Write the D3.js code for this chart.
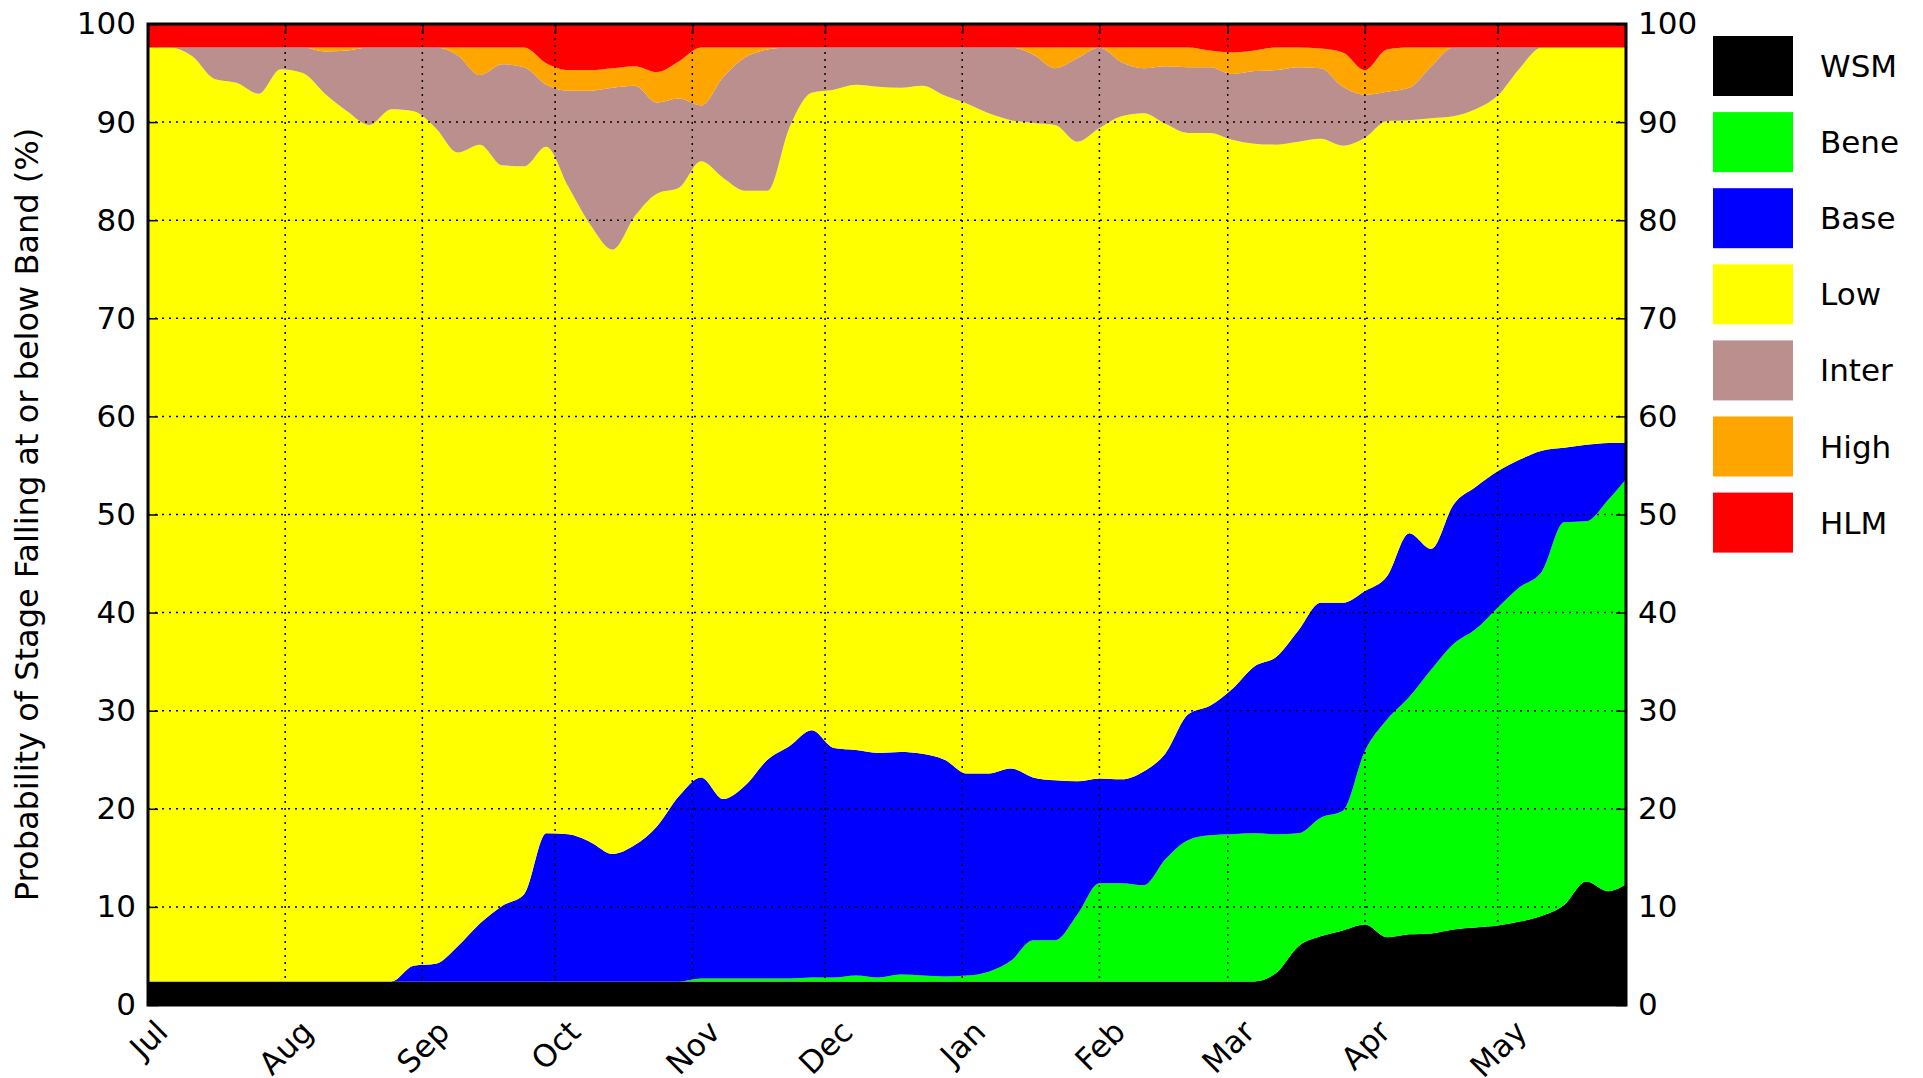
<!DOCTYPE html>
<html>
<head>
<meta charset="UTF-8">
<title>Probability of Stage Falling at or below Band</title>
<style>
  body { margin: 0; background: #fff; }
  text { font-family: "DejaVu Sans", sans-serif; fill: #000; }
</style>
</head>
<body>
<script src="https://cdn.jsdelivr.net/npm/d3@7/dist/d3.min.js"></script>
<script>
// days after 2019-07-01 where the curves were read
var dayOffsets = [0, 5, 10, 15, 20, 25, 30, 35, 40, 45,
                  50, 55, 60, 65, 70, 75, 80, 85, 90, 95,
                  100, 105, 110, 115, 120, 125, 130, 135, 140, 145,
                  150, 155, 160, 165, 170, 175, 180, 185, 190, 195,
                  200, 205, 210, 215, 220, 225, 230, 235, 240, 245,
                  250, 255, 260, 265, 270, 275, 280, 285, 290, 295,
                  300, 305, 310, 315, 320, 325, 330, 334];

// cumulative probability (%) of stage at or below each band
var wsm = [2.4, 2.4, 2.4, 2.4, 2.4, 2.4, 2.4, 2.4, 2.4, 2.4,
           2.4, 2.4, 2.4, 2.4, 2.4, 2.4, 2.4, 2.4, 2.4, 2.4,
           2.4, 2.4, 2.4, 2.4, 2.4, 2.4, 2.4, 2.4, 2.4, 2.4,
           2.4, 2.4, 2.4, 2.4, 2.4, 2.4, 2.4, 2.4, 2.4, 2.4,
           2.4, 2.4, 2.4, 2.4, 2.4, 2.4, 2.4, 2.4, 2.4, 2.4,
           2.4, 3.3, 6.0, 7.0, 7.6, 8.2, 6.9, 7.2, 7.3, 7.7,
           7.9, 8.1, 8.5, 9.1, 10.2, 12.6, 11.6, 12.3];

var bene = [2.4, 2.4, 2.4, 2.4, 2.4, 2.4, 2.4, 2.4, 2.4, 2.4,
            2.4, 2.4, 2.4, 2.4, 2.4, 2.4, 2.4, 2.4, 2.4, 2.4,
            2.4, 2.4, 2.4, 2.4, 2.4, 2.7, 2.7, 2.7, 2.7, 2.7,
            2.8, 2.8, 3.0, 2.8, 3.1, 3.0, 2.9, 3.0, 3.4, 4.5,
            6.6, 6.6, 9.2, 12.4, 12.4, 12.2, 14.9, 16.8, 17.3, 17.4,
            17.5, 17.4, 17.5, 19.1, 19.8, 25.9, 29.1, 31.4, 34.2, 36.8,
            38.3, 40.5, 42.6, 44.2, 49.2, 49.3, 51.5, 53.6];

var base = [2.4, 2.4, 2.4, 2.4, 2.4, 2.4, 2.4, 2.4, 2.4, 2.4,
            2.4, 2.4, 4.0, 4.2, 6.0, 8.3, 10.1, 11.3, 17.5, 17.4,
            16.6, 15.4, 16.3, 18.2, 21.3, 23.2, 21.0, 22.4, 25.0, 26.4,
            28.0, 26.2, 26.0, 25.7, 25.8, 25.6, 25.0, 23.6, 23.6, 24.1,
            23.2, 22.9, 22.8, 23.1, 23.0, 23.8, 25.7, 29.6, 30.5, 32.2,
            34.5, 35.5, 38.2, 41.0, 41.0, 42.2, 43.7, 48.1, 46.5, 51.0,
            52.8, 54.4, 55.6, 56.5, 56.8, 57.1, 57.3, 57.3];

var low = [97.6, 97.6, 96.7, 94.4, 94.0, 92.9, 95.4, 95.0, 92.9, 91.1,
           89.7, 91.3, 91.1, 89.4, 86.9, 87.7, 85.6, 85.5, 87.5, 83.4,
           79.5, 77.0, 80.4, 82.7, 83.3, 86.0, 84.3, 83.0, 83.0, 89.5,
           93.0, 93.3, 93.8, 93.6, 93.5, 93.7, 92.7, 91.9, 90.9, 90.2,
           89.9, 89.7, 88.0, 89.4, 90.6, 90.9, 89.8, 88.9, 88.9, 88.2,
           87.8, 87.7, 88.0, 88.3, 87.6, 88.4, 90.1, 90.2, 90.4, 90.6,
           91.3, 92.7, 95.5, 97.6, 97.6, 97.6, 97.6, 97.6];

var inter = [97.6, 97.6, 97.6, 97.6, 97.6, 97.6, 97.6, 97.6, 97.2, 97.3,
             97.6, 97.6, 97.6, 97.6, 96.8, 94.8, 95.9, 95.6, 93.8, 93.2,
             93.2, 93.5, 93.7, 92.0, 92.4, 91.7, 94.6, 96.6, 97.4, 97.6,
             97.6, 97.6, 97.6, 97.6, 97.6, 97.6, 97.6, 97.6, 97.6, 97.6,
             96.9, 95.5, 96.5, 97.6, 96.1, 95.5, 95.7, 95.6, 95.6, 94.9,
             95.2, 95.3, 95.6, 95.5, 93.6, 92.8, 93.1, 93.5, 95.7, 97.6,
             97.6, 97.6, 97.6, 97.6, 97.6, 97.6, 97.6, 97.6];

var high = [97.6, 97.6, 97.6, 97.6, 97.6, 97.6, 97.6, 97.6, 97.6, 97.6,
            97.6, 97.6, 97.6, 97.6, 97.6, 97.6, 97.6, 97.6, 96.0, 95.3,
            95.3, 95.5, 95.7, 95.1, 96.2, 97.6, 97.6, 97.6, 97.6, 97.6,
            97.6, 97.6, 97.6, 97.6, 97.6, 97.6, 97.6, 97.6, 97.6, 97.6,
            97.6, 97.6, 97.6, 97.6, 97.6, 97.6, 97.6, 97.6, 97.3, 97.1,
            97.3, 97.6, 97.6, 97.5, 97.1, 95.3, 97.4, 97.6, 97.6, 97.6,
            97.6, 97.6, 97.6, 97.6, 97.6, 97.6, 97.6, 97.6];

var hlm = dayOffsets.map(function(){ return 100; });

var bandNames = ["WSM", "Bene", "Base", "Low", "Inter", "High", "HLM"];
var bandColors = ["#000000", "#00ff00", "#0000ff", "#ffff00", "#bc8f8f", "#ffa500", "#ff0000"];
var yTicks = [0, 10, 20, 30, 40, 50, 60, 70, 80, 90, 100];

var startDate = new Date(Date.UTC(2019, 6, 1));
var endDate = new Date(Date.UTC(2020, 4, 30));

// canvas
var width = 1923, height = 1078;
var plotL = 148, plotR = 1626, plotT = 24, plotB = 1005;
var fontSize = 31;

var svg = d3.select("body").append("svg")
    .attr("width", width)
    .attr("height", height);

var x = d3.scaleUtc().domain([startDate, endDate]).range([plotL, plotR]);
var y = d3.scaleLinear().domain([0, 100]).range([plotB, plotT]);

var dates = dayOffsets.map(function(d){ return d3.utcDay.offset(startDate, d); });
var levels = [wsm, bene, base, low, inter, high, hlm];

// bands, from the bottom up
levels.forEach(function(top, k){
    var bottom = k === 0 ? null : levels[k - 1];
    var area = d3.area()
        .x(function(i){ return x(dates[i]); })
        .y0(function(i){ return bottom ? y(bottom[i]) : y(0); })
        .y1(function(i){ return y(top[i]); })
        .curve(d3.curveMonotoneX);
    svg.append("path")
        .attr("d", area(d3.range(dates.length)))
        .attr("fill", bandColors[k])
        .attr("stroke", "none");
});

// dotted grid
var months = d3.utcMonth.range(startDate, endDate);
svg.append("g").selectAll("line")
    .data(months.slice(1))
    .enter().append("line")
    .attr("x1", function(d){ return x(d); })
    .attr("x2", function(d){ return x(d); })
    .attr("y1", plotT).attr("y2", plotB)
    .attr("stroke", "#000").attr("stroke-width", 1.5)
    .attr("stroke-dasharray", "2,5");
svg.append("g").selectAll("line")
    .data(yTicks.slice(1, -1))
    .enter().append("line")
    .attr("x1", plotL).attr("x2", plotR)
    .attr("y1", function(d){ return y(d); })
    .attr("y2", function(d){ return y(d); })
    .attr("stroke", "#000").attr("stroke-width", 1.5)
    .attr("stroke-dasharray", "2,5");

// axes (ticks pointing inward)
function styleAxis(g){
    g.select(".domain").remove();
    g.selectAll(".tick line").attr("stroke", "#000").attr("stroke-width", 1.5);
    g.selectAll(".tick text").attr("font-size", fontSize).attr("font-family", "DejaVu Sans");
}

svg.append("g")
    .attr("transform", "translate(" + plotL + ",0)")
    .call(d3.axisLeft(y).tickValues(yTicks).tickSizeInner(-10).tickSizeOuter(0).tickPadding(12))
    .call(styleAxis);

svg.append("g")
    .attr("transform", "translate(" + plotR + ",0)")
    .call(d3.axisRight(y).tickValues(yTicks).tickSizeInner(-10).tickSizeOuter(0).tickPadding(12))
    .call(styleAxis);

svg.append("g")
    .attr("transform", "translate(0," + plotT + ")")
    .call(d3.axisTop(x).tickValues(months).tickSizeInner(-10).tickSizeOuter(0).tickFormat(""))
    .call(styleAxis);

var xAxis = svg.append("g")
    .attr("transform", "translate(0," + plotB + ")")
    .call(d3.axisBottom(x).tickValues(months).tickSizeInner(-10).tickSizeOuter(0)
        .tickFormat(d3.utcFormat("%b")))
    .call(styleAxis);

// month labels rotated 45 degrees, box centred under the tick
xAxis.selectAll(".tick text")
    .attr("text-anchor", "middle")
    .attr("dominant-baseline", "central")
    .attr("y", 0).attr("dy", null)
    .attr("transform", function(){
        var w = this.getComputedTextLength();
        var h = (w + fontSize * 1.1) * Math.SQRT1_2;
        return "translate(0," + (9 + h / 2) + ") rotate(-45)";
    });

// frame
svg.append("rect")
    .attr("x", plotL).attr("y", plotT)
    .attr("width", plotR - plotL).attr("height", plotB - plotT)
    .attr("fill", "none")
    .attr("stroke", "#000")
    .attr("stroke-width", 3);

// y label
svg.append("text")
    .attr("transform", "translate(27," + ((plotT + plotB) / 2) + ") rotate(-90)")
    .attr("text-anchor", "middle")
    .attr("dominant-baseline", "central")
    .attr("font-size", 32)
    .text("Probability of Stage Falling at or below Band (%)");

// legend
var legend = svg.append("g");
bandNames.forEach(function(name, i){
    var ly = 36 + i * 76.1;
    legend.append("rect")
        .attr("x", 1713).attr("y", ly)
        .attr("width", 80).attr("height", 60)
        .attr("fill", bandColors[i]);
    legend.append("text")
        .attr("x", 1820).attr("y", ly + 30)
        .attr("dominant-baseline", "central")
        .attr("font-size", fontSize)
        .text(name);
});
</script>
</body>
</html>
